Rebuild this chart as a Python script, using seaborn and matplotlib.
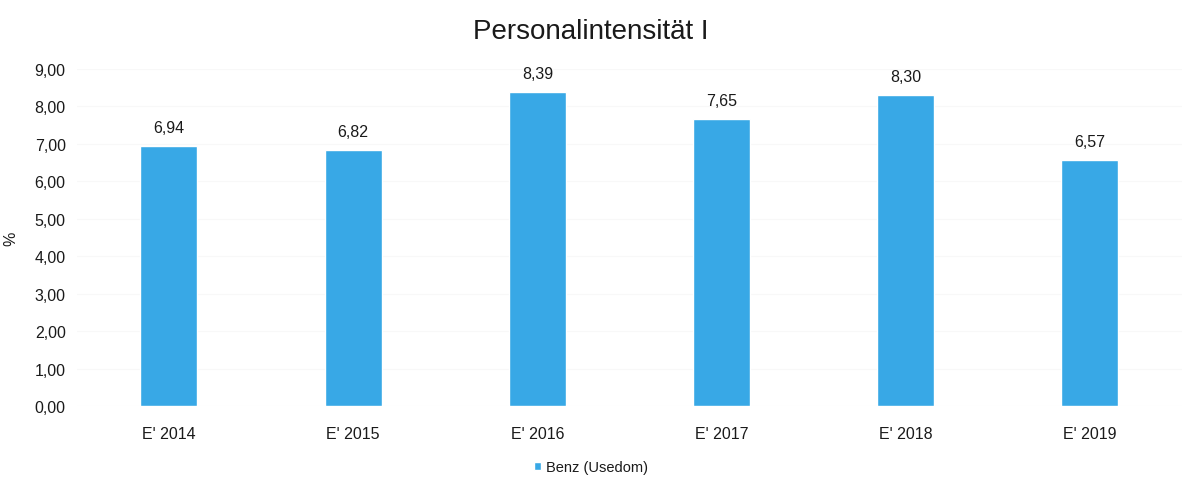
import matplotlib
matplotlib.use("Agg")
import matplotlib.pyplot as plt
import seaborn as sns
import pandas as pd
from matplotlib.ticker import FuncFormatter
from matplotlib.patches import Patch

years = ["E' 2014", "E' 2015", "E' 2016", "E' 2017", "E' 2018", "E' 2019"]
values = [6.94, 6.82, 8.39, 7.65, 8.30, 6.57]
series_name = "Benz (Usedom)"
yticks = [0, 1, 2, 3, 4, 5, 6, 7, 8, 9]

bar_color = "#38A8E6"
text_color = "#1a1a1a"

sns.set_theme(style="white")
plt.rcParams["font.family"] = ["Liberation Sans", "DejaVu Sans"]

df = pd.DataFrame({"Jahr": years, "Wert": values})

fig = plt.figure(figsize=(11.82, 5.02), dpi=100)
ax = fig.add_axes([0.065, 0.189, 0.935, 0.672])

sns.barplot(data=df, x="Jahr", y="Wert", color=bar_color, width=0.31,
            saturation=1, ax=ax)

ax.set_xlim(-0.5, 5.5)
ax.set_ylim(0, 9)
ax.set_yticks(yticks)
ax.yaxis.set_major_formatter(FuncFormatter(lambda v, p: f"{v:.2f}".replace(".", ",")))
ax.grid(axis="y", color="#f8f8f8", linewidth=0.8)
ax.set_axisbelow(True)
for s in ax.spines.values():
    s.set_visible(False)

ax.tick_params(axis="y", labelsize=11.5, colors=text_color, length=0, pad=8)
ax.tick_params(axis="x", labelsize=11.5, colors=text_color, length=0, pad=14)
ax.set_xlabel("")
ax.set_ylabel("%", fontsize=11.5, color=text_color, labelpad=12)

ax.bar_label(ax.containers[0], labels=[f"{v:.2f}".replace(".", ",") for v in values],
             padding=8, fontsize=11.5, color=text_color)

fig.suptitle("Personalintensität I", fontsize=20, color=text_color, y=0.962)

handles = [Patch(facecolor=bar_color, label=series_name)]
fig.legend(handles=handles, loc="center", bbox_to_anchor=(0.5, 0.068), frameon=False,
           fontsize=10.5, handlelength=0.5, handleheight=0.5, handletextpad=0.3,
           labelcolor=text_color)

fig.savefig("out.png", dpi=100)
